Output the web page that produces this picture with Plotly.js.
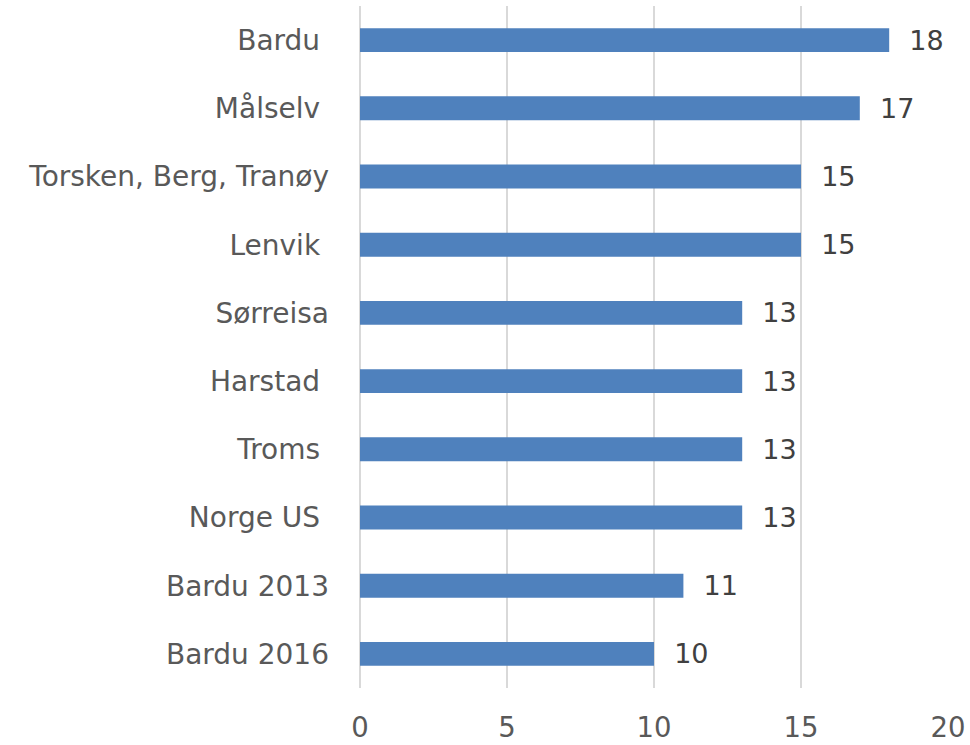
<!DOCTYPE html>
<html>
<head>
<meta charset="utf-8">
<script src="https://cdn.plot.ly/plotly-3.0.1.min.js"></script>
<style>html,body{margin:0;padding:0;background:#fff;}#chart{width:970px;height:745px;}</style>
</head>
<body>
<div id="chart"></div>
<script>
const categories = ["Bardu\u00a0", "Målselv\u00a0", "Torsken, Berg, Tranøy", "Lenvik\u00a0", "Sørreisa", "Harstad\u00a0", "Troms\u00a0", "Norge US\u00a0", "Bardu 2013", "Bardu 2016"];
const values = [18, 17, 15, 15, 13, 13, 13, 13, 11, 10];
const xTicks = [0, 5, 10, 15, 20];

const FONT = "'DejaVu Sans', sans-serif";

const trace = {
  type: 'bar',
  orientation: 'h',
  y: categories,
  x: values,
  width: 0.35,
  marker: {color: '#4f81bd'},
  text: values.map(String),
  texttemplate: '\u00a0\u00a0%{text}',
  textposition: 'outside',
  constraintext: 'none',
  textfont: {family: FONT, size: 27, color: '#404040'},
  cliponaxis: false,
  hoverinfo: 'none'
};

const layout = {
  width: 970, height: 745,
  margin: {l: 360, r: 22, t: 6, b: 57},
  paper_bgcolor: '#ffffff',
  plot_bgcolor: '#ffffff',
  showlegend: false,
  xaxis: {
    range: [0, 20],
    tickvals: xTicks,
    ticktext: xTicks.map(String),
    showgrid: true,
    gridcolor: '#d9d9d9',
    gridwidth: 1.5,
    zeroline: true,
    zerolinecolor: '#d9d9d9',
    zerolinewidth: 1.5,
    showline: false,
    ticks: '',
    ticklabelstandoff: 20,
    tickfont: {family: FONT, size: 27.5, color: '#595959'},
    fixedrange: true
  },
  yaxis: {
    type: 'category',
    categoryorder: 'array',
    categoryarray: categories,
    range: [9.5, -0.5],
    showgrid: false,
    zeroline: false,
    showline: false,
    ticks: '',
    ticklabelstandoff: 30,
    tickfont: {family: FONT, size: 28, color: '#595959'},
    fixedrange: true
  },
  bargap: 0.65
};

Plotly.newPlot('chart', [trace], layout, {displayModeBar: false, staticPlot: true});
</script>
</body>
</html>
